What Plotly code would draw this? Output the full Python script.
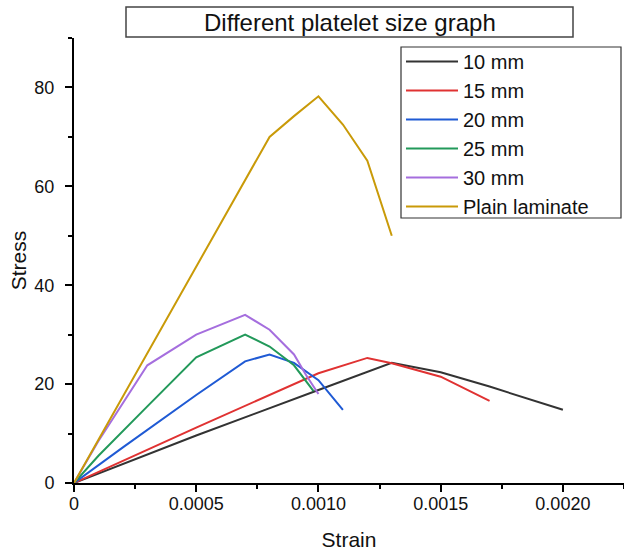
import plotly.graph_objects as go

# ---- data ----
series_names = ["10 mm", "15 mm", "20 mm", "25 mm", "30 mm", "Plain laminate"]
series_colors = ["#333333", "#E03232", "#1F5AD4", "#22995A", "#A56EDE", "#C99A08"]

strain_10 = [0, 0.0005, 0.0010, 0.0013, 0.0015, 0.0017, 0.0020]
stress_10 = [0, 9.6, 18.8, 24.3, 22.4, 19.5, 14.8]

strain_15 = [0, 0.0005, 0.0010, 0.0012, 0.0013, 0.0015, 0.0017]
stress_15 = [0, 11.2, 22.2, 25.3, 24.2, 21.5, 16.6]

strain_20 = [0, 0.0002, 0.0005, 0.0007, 0.0008, 0.0009, 0.0010, 0.0011]
stress_20 = [0, 7.2, 17.8, 24.6, 26.0, 24.3, 20.8, 14.8]

strain_25 = [0, 0.0001, 0.0003, 0.0005, 0.0007, 0.0008, 0.0009, 0.00098]
stress_25 = [0, 5.5, 15.5, 25.4, 30.0, 27.6, 23.8, 18.6]

strain_30 = [0, 0.0001, 0.0003, 0.0005, 0.0007, 0.0008, 0.0009, 0.00095, 0.0010]
stress_30 = [0, 8.5, 23.8, 30.0, 34.0, 31.0, 26.0, 21.8, 18.0]

strain_plain = [0, 0.0003, 0.0005, 0.0008, 0.0009, 0.0010, 0.0011, 0.0012, 0.0013]
stress_plain = [0, 26.3, 43.8, 70.0, 74.2, 78.2, 72.5, 65.2, 50.0]

x_tickvals = [0, 0.0005, 0.0010, 0.0015, 0.0020]
x_ticktext = ["0", "0.0005", "0.0010", "0.0015", "0.0020"]
y_tickvals = [0, 20, 40, 60, 80]
y_ticktext = ["0", "20", "40", "60", "80"]

title_text = "Different platelet size graph"

xs = [strain_10, strain_15, strain_20, strain_25, strain_30, strain_plain]
ys = [stress_10, stress_15, stress_20, stress_25, stress_30, stress_plain]

FONT = "Arial, Liberation Sans, sans-serif"

fig = go.Figure()
for name, color, x, y in zip(series_names, series_colors, xs, ys):
    fig.add_trace(go.Scatter(x=x, y=y, mode="lines", name=name,
                             line=dict(color=color, width=2)))

# pixel geometry helpers
L, R, T, B = 74, 0, 38, 70
W, H = 624, 553
PW, PH = W - L - R, H - T - B

def px(xp):
    return (xp - L) / PW

def py(yp):
    return (H - B - yp) / PH

fig.update_layout(
    width=W, height=H,
    margin=dict(l=L, r=R, t=T, b=B, pad=0),
    paper_bgcolor="white", plot_bgcolor="white",
    font=dict(family=FONT, color="#111111"),
    showlegend=True,
    legend=dict(x=px(401), y=py(42), xanchor="left", yanchor="top",
                borderwidth=0, bgcolor="rgba(0,0,0,0)",
                font=dict(size=20, family=FONT, color="#111111"),
                itemwidth=52, tracegroupgap=0),
    xaxis=dict(range=[0, 0.00225], tickvals=x_tickvals, ticktext=x_ticktext,
               ticks="outside", ticklen=7, tickwidth=2, tickcolor="black",
               showline=True, linecolor="black", linewidth=2,
               showgrid=False, zeroline=False,
               tickfont=dict(size=18, family=FONT, color="#111111"),
               ticklabelstandoff=-4,
               minor=dict(ticks="outside", ticklen=4, tickwidth=2,
                          tickcolor="black", tick0=0, dtick=0.00025, showgrid=False),
               title=dict(text="Strain", font=dict(size=21, family=FONT, color="#111111"),
                          standoff=20)),
    yaxis=dict(range=[0, 90], tickvals=y_tickvals, ticktext=y_ticktext,
               ticks="outside", ticklen=7, tickwidth=2, tickcolor="black",
               showline=True, linecolor="black", linewidth=2,
               showgrid=False, zeroline=False,
               tickfont=dict(size=18, family=FONT, color="#111111"),
               ticklabelstandoff=7,
               minor=dict(ticks="outside", ticklen=4, tickwidth=2,
                          tickcolor="black", tick0=0, dtick=10, showgrid=False),
               title=dict(text="Stress", font=dict(size=21, family=FONT, color="#111111"),
                          standoff=2)),
    shapes=[dict(type="rect", xref="paper", yref="paper",
                 x0=px(126), x1=px(573), y0=py(37), y1=py(7),
                 line=dict(color="#444444", width=1.5), fillcolor="white", layer="above"),
            dict(type="rect", xref="paper", yref="paper",
                 x0=px(401), x1=px(621), y0=py(218), y1=py(47),
                 line=dict(color="#333333", width=1.2), fillcolor="white", layer="above")],
    annotations=[dict(text=title_text, xref="paper", yref="paper",
                      x=px(349.5), y=py(22), xanchor="center", yanchor="middle",
                      showarrow=False, font=dict(size=24, family=FONT, color="#111111"))],
)

fig.write_html("out.html")
